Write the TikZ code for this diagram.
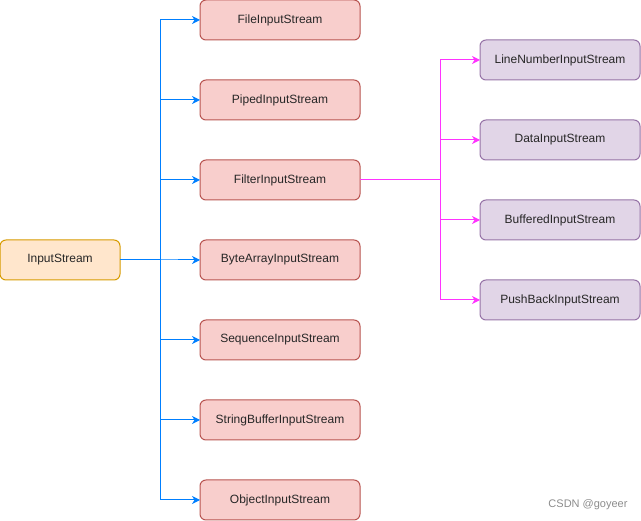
\documentclass[tikz,border=0pt]{standalone}
\usepackage{fontspec}
\setmainfont{Liberation Sans}
\usetikzlibrary{
  positioning,
  arrows.meta,
  calc
}
\definecolor{rootfill}{HTML}{FFE6CC}
\definecolor{rootline}{HTML}{D79B00}
\definecolor{subfill}{HTML}{F8CECC}
\definecolor{subline}{HTML}{B85450}
\definecolor{decofill}{HTML}{E1D5E7}
\definecolor{decoline}{HTML}{9673A6}
\definecolor{linkblue}{HTML}{007FFF}
\definecolor{linkpink}{HTML}{FF33FF}
\tikzset{
  box/.style={draw, rounded corners=6pt, minimum width=160pt, minimum height=40pt,
    line width=1pt, inner sep=0pt, outer sep=0pt, text=black!85, font=\fontsize{12}{14}\selectfont},
  root/.style={box, fill=rootfill, draw=rootline, minimum width=120pt},
  sub/.style={box, fill=subfill, draw=subline},
  deco/.style={box, fill=decofill, draw=decoline},
  bluelink/.style={draw=linkblue, line width=1pt, -{Stealth[length=8pt,width=8pt,inset=2.5pt]}},
  pinklink/.style={draw=linkpink, line width=1pt, -{Stealth[length=8pt,width=8pt,inset=2.5pt]}}
}

\begin{document}
\begin{tikzpicture}[x=1pt, y=-1pt, node distance = 40pt]
      \useasboundingbox (0,0) rectangle (641,521);

      \node[sub] (file) at (280,20) {FileInputStream};
      \node[sub,below = of file] (piped) {PipedInputStream};
      \node[sub,below = of piped] (filter) {FilterInputStream};
      \node[sub,below = of filter] (bytearray) {ByteArrayInputStream};
      \node[sub,below = of bytearray] (sequence) {SequenceInputStream};
      \node[sub,below = of sequence] (stringbuf) {StringBufferInputStream};
      \node[sub,below = of stringbuf] (object) {ObjectInputStream};
      \node[root,left = 80pt of bytearray] (input) {InputStream};

      \node[deco] (linenum) at (560,60) {LineNumberInputStream};
      \node[deco,below = of linenum] (data) {DataInputStream};
      \node[deco,below = of data] (buffered) {BufferedInputStream};
      \node[deco,below = of buffered] (pushback) {PushBackInputStream};

      \node[text=black!45, font=\fontsize{11}{13}\selectfont] (mark) at (588,505) {CSDN @goyeer};

      \coordinate (trunk) at ($(input.east)+(40pt,0)$);
      \coordinate (branch) at ($(filter.east)+(80pt,0)$);

      \foreach \n in {file,piped,filter,bytearray,sequence,stringbuf,object}
        \draw[bluelink] (input.east) -- (trunk) |- (\n.west);
      \foreach \n in {linenum,data,buffered,pushback}
        \draw[pinklink] (filter.east) -- (branch) |- (\n.west);
    \end{tikzpicture}
\end{document}
